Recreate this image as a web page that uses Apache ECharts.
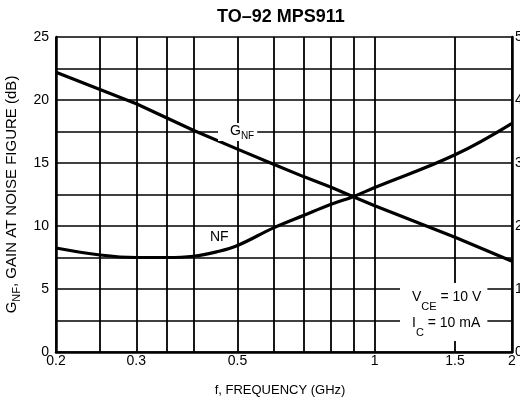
<!DOCTYPE html>
<html>
<head>
<meta charset="utf-8">
<script src="https://cdn.jsdelivr.net/npm/echarts@6/dist/echarts.min.js"></script>
<style>
    html, body { margin: 0; padding: 0; background: #fff; }
    #main { width: 520px; height: 404px; }
</style>
</head>
<body>
<div id="main"></div>
<script>
    // gain at noise figure (left axis, dB)
    const gnfFreq = [0.2, 0.3, 0.4, 0.5, 0.6, 0.7, 0.8, 0.9, 1.0, 1.5, 2.0];
    const gnfVals = [22.2, 19.7, 17.6, 16.1, 14.9, 13.9, 13.1, 12.3, 11.6, 9.1, 7.2];

    // noise figure (right axis, dB)
    const nfFreq = [0.2, 0.25, 0.3, 0.35, 0.4, 0.45, 0.5, 0.6, 0.7, 0.8, 0.9, 1.0, 1.5, 2.0];
    const nfVals = [1.65, 1.54, 1.5, 1.5, 1.52, 1.59, 1.69, 1.97, 2.17, 2.34, 2.47, 2.61, 3.13, 3.63];

    const xGridValues = [0.2, 0.25, 0.3, 0.35, 0.4, 0.5, 0.6, 0.7, 0.8, 0.9, 1, 1.5, 2];
    const xLabelValues = [0.2, 0.3, 0.5, 1, 1.5, 2];
    const yLeftTicks = [0, 5, 10, 15, 20, 25];
    const yRightTicks = [0, 1, 2, 3, 4, 5];

    const chart = echarts.init(document.getElementById('main'));
    const font = "'Liberation Sans', Arial, sans-serif";

    const zip = (xs, ys) => xs.map((x, i) => [x, ys[i]]);

    const option = {
        backgroundColor: '#fff',
        animation: false,
        textStyle: { fontFamily: font, color: '#000' },
        title: {
            text: 'TO–92 MPS911',
            left: 212,
            top: 3,
            textStyle: { fontSize: 18, fontWeight: 'bold', color: '#000', fontFamily: font }
        },
        grid: { left: 56, right: 8, top: 37, bottom: 52, outerBoundsMode: 'none', containLabel: false },
        xAxis: {
            type: 'log',
            logBase: 10,
            min: 0.2,
            max: 2,
            name: 'f, FREQUENCY (GHz)',
            nameLocation: 'middle',
            nameGap: 32,
            nameTextStyle: { fontSize: 13, color: '#000', padding: [0, 8, 0, 0] },
            axisLine: { show: true, lineStyle: { color: '#000', width: 2.5 } },
            axisTick: { show: false, customValues: xGridValues },
            axisLabel: { customValues: xLabelValues, fontSize: 14, color: '#000', margin: 2, hideOverlap: false },
            splitLine: { show: true, lineStyle: { color: '#000', width: 1.8 } }
        },
        yAxis: [{
            type: 'value',
            min: 0,
            max: 25,
            interval: 2.5,
            name: '{m|G}{s|NF}{m|, GAIN AT NOISE FIGURE (dB)}',
            nameLocation: 'middle',
            nameGap: 33,
            nameTextStyle: {
                rich: {
                    m: { fontSize: 15, color: '#000', padding: [0, 0, 3, 0] },
                    s: { fontSize: 11, color: '#000', verticalAlign: 'bottom' }
                }
            },
            axisLine: { show: true, lineStyle: { color: '#000', width: 2.5 } },
            axisTick: { show: false },
            axisLabel: {
                fontSize: 14,
                color: '#000',
                margin: 7,
                formatter: v => (yLeftTicks.indexOf(v) >= 0 ? String(v) : '')
            },
            splitLine: { show: true, lineStyle: { color: '#000', width: 1.6 } }
        }, {
            type: 'value',
            min: 0,
            max: 5,
            interval: 1,
            position: 'right',
            axisLine: { show: true, lineStyle: { color: '#000', width: 2.5 } },
            axisTick: { show: false },
            axisLabel: {
                fontSize: 14,
                color: '#000',
                margin: 3,
                formatter: v => (yRightTicks.indexOf(v) >= 0 ? String(v) : '')
            },
            splitLine: { show: false }
        }],
        series: [{
            name: 'GNF',
            type: 'line',
            yAxisIndex: 0,
            showSymbol: false,
            smooth: false,
            lineStyle: { color: '#000', width: 3.2 },
            data: zip(gnfFreq, gnfVals)
        }, {
            name: 'NF',
            type: 'line',
            yAxisIndex: 1,
            showSymbol: false,
            smooth: 0.4,
            lineStyle: { color: '#000', width: 3.2 },
            data: zip(nfFreq, nfVals)
        }],
        graphic: [{
            type: 'text',
            left: 218,
            top: 123,
            z: 100,
            style: {
                text: '{m|G}{s|NF}',
                backgroundColor: '#fff',
                padding: [1, 3, 0, 12],
                rich: {
                    m: { fontSize: 14, fill: '#000', fontFamily: font, padding: [0, 0, 3, 0] },
                    s: { fontSize: 10, fill: '#000', fontFamily: font, verticalAlign: 'bottom' }
                }
            }
        }, {
            type: 'text',
            left: 208,
            top: 229,
            z: 100,
            style: {
                text: 'NF',
                fill: '#000',
                font: '14px ' + font,
                backgroundColor: '#fff',
                padding: [1, 2, 1, 2]
            }
        }, {
            type: 'text',
            left: 400,
            top: 283,
            z: 100,
            style: {
                text: '{m|V}{s|CE}{m| = 10 V}\n{m|I}{s|C}{m| = 10 mA}',
                backgroundColor: '#fff',
                padding: [3, 6, 3, 12],
                lineHeight: 26,
                rich: {
                    m: { fontSize: 14, fill: '#000', fontFamily: font, padding: [0, 0, 3, 0], lineHeight: 26 },
                    s: { fontSize: 11, fill: '#000', fontFamily: font, verticalAlign: 'bottom', lineHeight: 26 }
                }
            }
        }]
    };

    chart.setOption(option);

    window.onresize = function () {
        chart.resize();
    };
</script>
</body>
</html>
